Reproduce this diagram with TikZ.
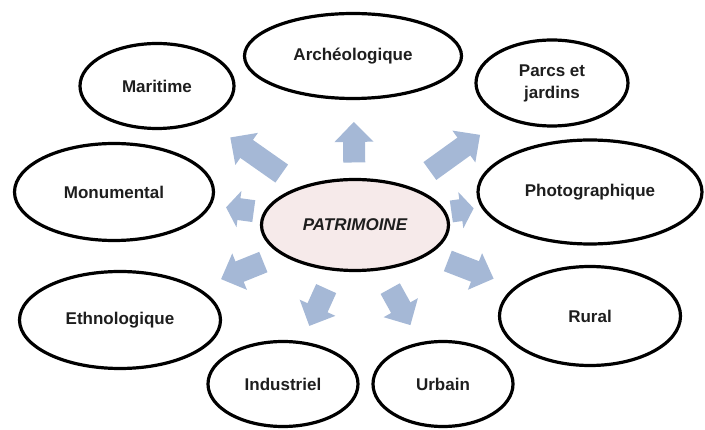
\documentclass[tikz,border=0pt]{standalone}
\usepackage{fontspec}
\setmainfont{Liberation Sans}
\usetikzlibrary{shapes.geometric, arrows.meta, calc}

\definecolor{bleufleche}{RGB}{165,184,214}
\definecolor{rosecentre}{RGB}{246,234,234}
\definecolor{texte}{RGB}{30,30,30}

\begin{document}
\begin{tikzpicture}[
    x=1pt, y=-1pt,
    domaine/.style={ellipse, draw=black, line width=3.2pt, fill=white, inner sep=0pt,
        text=texte, align=center, font=\fontsize{17}{22}\selectfont\bfseries},
    fleche/.style={draw=bleufleche, line width=22pt, -{Triangle[length=20pt, width=38pt]}},
    petitefleche/.style={draw=bleufleche, line width=22pt, -{Triangle[length=13pt, width=36pt]}}
]

\useasboundingbox (0,0) rectangle (705,430);

% Noeud central
\node[domaine, fill=rosecentre, minimum width=187pt, minimum height=91pt,
    font=\fontsize{17}{22}\selectfont\bfseries\itshape] (patri) at (355,225) {PATRIMOINE};

% Domaines autour du centre
\node[domaine, minimum width=217pt, minimum height=85pt] (arch) at (353,56) {Archéologique};
\node[domaine, minimum width=154pt, minimum height=85pt] (mari) at (157,86) {Maritime};
\node[domaine, minimum width=152pt, minimum height=86pt] (parcs) at (552,83) {Parcs et\\jardins};
\node[domaine, minimum width=199pt, minimum height=97pt] (monu) at (114,192) {Monumental};
\node[domaine, minimum width=224pt, minimum height=104pt] (photo) at (590,192) {Photographique};
\node[domaine, minimum width=201pt, minimum height=97pt] (ethno) at (120,320) {Ethnologique};
\node[domaine, minimum width=181pt, minimum height=99pt] (rural) at (590,316) {Rural};
\node[domaine, minimum width=150pt, minimum height=85pt] (indus) at (283,384) {Industriel};
\node[domaine, minimum width=140pt, minimum height=85pt] (urbain) at (443,384) {Urbain};

% Fleches divergentes
\draw[fleche] ($(patri)!0.37!(arch)$) -- ($(patri)!0.61!(arch)$);
\draw[fleche] ($(patri)!0.37!(mari)$) -- ($(patri)!0.63!(mari)$);
\draw[fleche] ($(patri)!0.38!(parcs)$) -- ($(patri)!0.635!(parcs)$);
\draw[petitefleche] ($(patri)!0.42!(monu)$) -- ($(patri)!0.535!(monu)$);
\draw[petitefleche] ($(patri)!0.41!(photo)$) -- ($(patri)!0.505!(photo)$);
\draw[fleche] ($(patri)!0.39!(ethno)$) -- ($(patri)!0.57!(ethno)$);
\draw[fleche] ($(patri)!0.395!(rural)$) -- ($(patri)!0.59!(rural)$);
\draw[fleche] ($(patri)!0.40!(indus)$) -- ($(patri)!0.635!(indus)$);
\draw[fleche] ($(patri)!0.40!(urbain)$) -- ($(patri)!0.63!(urbain)$);

\end{tikzpicture}
\end{document}
